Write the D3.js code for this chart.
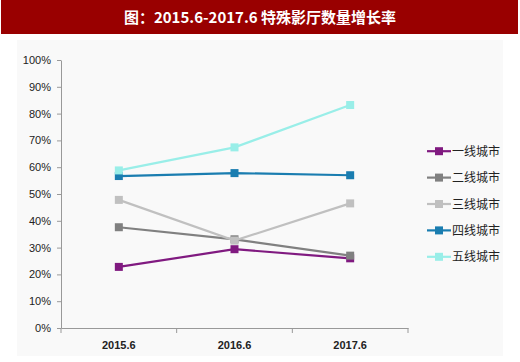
<!DOCTYPE html>
<html><head><meta charset="utf-8">
<script src="https://cdn.jsdelivr.net/npm/d3@7"></script>
<style>body{margin:0;background:#fff}svg{display:block}</style>
</head><body>
<script>
const title = "图：2015.6-2017.6 特殊影厅数量增长率";
const categories = ["2015.6", "2016.6", "2017.6"];
const seriesNames = ["一线城市", "二线城市", "三线城市", "四线城市", "五线城市"];
const s1 = [22.8, 29.4, 26.0];
const s2 = [37.6, 33.1, 27.0];
const s3 = [47.8, 32.6, 46.5];
const s4 = [56.7, 57.8, 57.0];
const s5 = [58.8, 67.4, 83.2];
const yTicks = [0, 10, 20, 30, 40, 50, 60, 70, 80, 90, 100];
const colors = ["#801a80", "#808080", "#c0c0c0", "#1a7db0", "#99eee8"];
const seriesData = [s1, s2, s3, s4, s5];

const W = 520, H = 362;
const svg = d3.select("body").append("svg").attr("width", W).attr("height", H);
svg.append("rect").attr("x", 0).attr("y", 0).attr("width", W).attr("height", H).attr("fill", "#fff");
svg.append("rect").attr("x", 1).attr("y", 0).attr("width", 517).attr("height", 34).attr("fill", "#990000");
svg.append("text").attr("x", 260).attr("y", 23).attr("text-anchor", "middle")
  .attr("fill", "#fff").attr("font-family", "'Noto Sans CJK SC', sans-serif")
  .attr("font-weight", "bold").attr("font-size", 15).text(title);
svg.append("rect").attr("x", 17).attr("y", 40).attr("width", 486).attr("height", 316).attr("fill", "#f9f9f9");

const x = d3.scaleBand().domain(categories).range([61, 408]);
const y = d3.scaleLinear().domain([0, 100]).range([328, 60]);

const font = "'Liberation Sans', 'DejaVu Sans', sans-serif";
const yAxis = svg.append("g").attr("transform", "translate(61,0)")
  .call(d3.axisLeft(y).tickValues(yTicks).tickFormat(d => d + "%").tickSize(4).tickSizeOuter(0));
yAxis.select(".domain").attr("stroke", "#999");
yAxis.selectAll(".tick line").attr("stroke", "#999");
yAxis.selectAll("text").attr("font-family", font).attr("font-size", 11).attr("fill", "#222").attr("x", -10);

const xAxis = svg.append("g").attr("transform", "translate(0,328)")
  .call(d3.axisBottom(x).tickSize(0).tickSizeOuter(0));
xAxis.select(".domain").attr("stroke", "#999");
xAxis.selectAll(".tick line").remove();
xAxis.selectAll("text").attr("font-family", font).attr("font-size", 11).attr("font-weight", "bold").attr("fill", "#222").attr("dy", "1.6em");
const edges = categories.map(c => x(c)).concat([x.range()[1]]);
svg.append("g").selectAll("line").data(edges).join("line")
  .attr("x1", d => d).attr("x2", d => d).attr("y1", 328).attr("y2", 333).attr("stroke", "#999");

const line = d3.line().x((d, i) => x(categories[i]) + x.bandwidth() / 2).y(d => y(d));
seriesData.forEach((vals, si) => {
  const g = svg.append("g");
  g.append("path").attr("d", line(vals)).attr("fill", "none").attr("stroke", colors[si]).attr("stroke-width", 2.2);
  g.selectAll("rect").data(vals).join("rect")
    .attr("x", (d, i) => x(categories[i]) + x.bandwidth() / 2 - 4)
    .attr("y", d => y(d) - 4).attr("width", 8).attr("height", 8).attr("fill", colors[si]);
});

const leg = d3.scaleBand().domain(seriesNames).range([138, 270]);
seriesNames.forEach((n, i) => {
  const cy = leg(n) + leg.bandwidth() / 2;
  svg.append("line").attr("x1", 427).attr("x2", 451).attr("y1", cy).attr("y2", cy).attr("stroke", colors[i]).attr("stroke-width", 2.2);
  svg.append("rect").attr("x", 435).attr("y", cy - 4).attr("width", 8).attr("height", 8).attr("fill", colors[i]);
  svg.append("text").attr("x", 452).attr("y", cy + 4.5).attr("font-family", "'Noto Sans CJK SC', sans-serif")
    .attr("font-size", 12).attr("fill", "#222").text(n);
});
</script>
</body></html>
